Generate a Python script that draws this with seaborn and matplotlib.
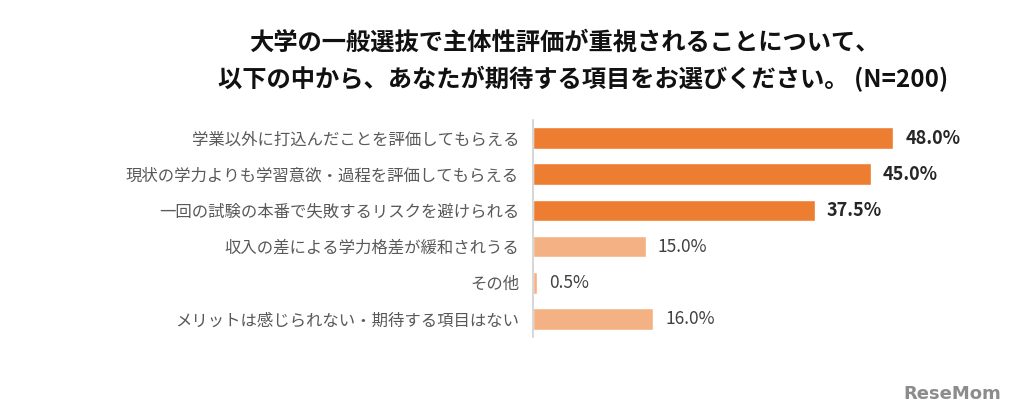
import matplotlib
matplotlib.use("Agg")
import matplotlib.pyplot as plt
import seaborn as sns
import pandas as pd

categories = [
    "学業以外に打込んだことを評価してもらえる",
    "現状の学力よりも学習意欲・過程を評価してもらえる",
    "一回の試験の本番で失敗するリスクを避けられる",
    "収入の差による学力格差が緩和されうる",
    "その他",
    "メリットは感じられない・期待する項目はない",
]
values = [48.0, 45.0, 37.5, 15.0, 0.5, 16.0]
highlight = [True, True, True, False, False, False]

df = pd.DataFrame({"item": categories, "pct": values})

sns.set_theme(style="white")
plt.rcParams["font.family"] = ["Noto Sans CJK JP", "DejaVu Sans"]

dark = "#ED7D31"
light = "#F4B183"
colors = [dark if h else light for h in highlight]

fig = plt.figure(figsize=(10.24, 4.18), dpi=100)
ax = fig.add_axes([0.5205, 0.194, 0.44, 0.519])

sns.barplot(data=df, x="pct", y="item", hue="item", palette=colors,
            legend=False, width=0.6, ax=ax, saturation=1)

ax.set_xlim(0, 60)
ax.set_xlabel("")
ax.set_ylabel("")
ax.set_xticks([])
ax.tick_params(axis="y", length=0, pad=10, labelsize=11.8, labelcolor="#595959")
for s in ["top", "right", "bottom"]:
    ax.spines[s].set_visible(False)
ax.spines["left"].set_color("#D0D0D0")
ax.spines["left"].set_linewidth(1.2)

for i, (v, h) in enumerate(zip(values, highlight)):
    ax.text(v + 1.6, i, f"{v:.1f}%", va="center", ha="left",
            fontsize=13 if h else 12.5,
            fontweight="bold" if h else "normal",
            color="#262626" if h else "#404040")

fig.text(0.551, 0.897, "大学の一般選抜で主体性評価が重視されることについて、",
         ha="center", va="center", fontsize=17.5, fontweight="bold", color="#111111")
fig.text(0.569, 0.81, "以下の中から、あなたが期待する項目をお選びください。 (N=200)",
         ha="center", va="center", fontsize=17.5, fontweight="bold", color="#111111")

fig.text(0.978, 0.058, "ReseMom", ha="right", va="center", fontsize=13,
         fontweight="bold", color="#8C8C8C", family=["DejaVu Sans"])

fig.savefig("out.png", dpi=100)
